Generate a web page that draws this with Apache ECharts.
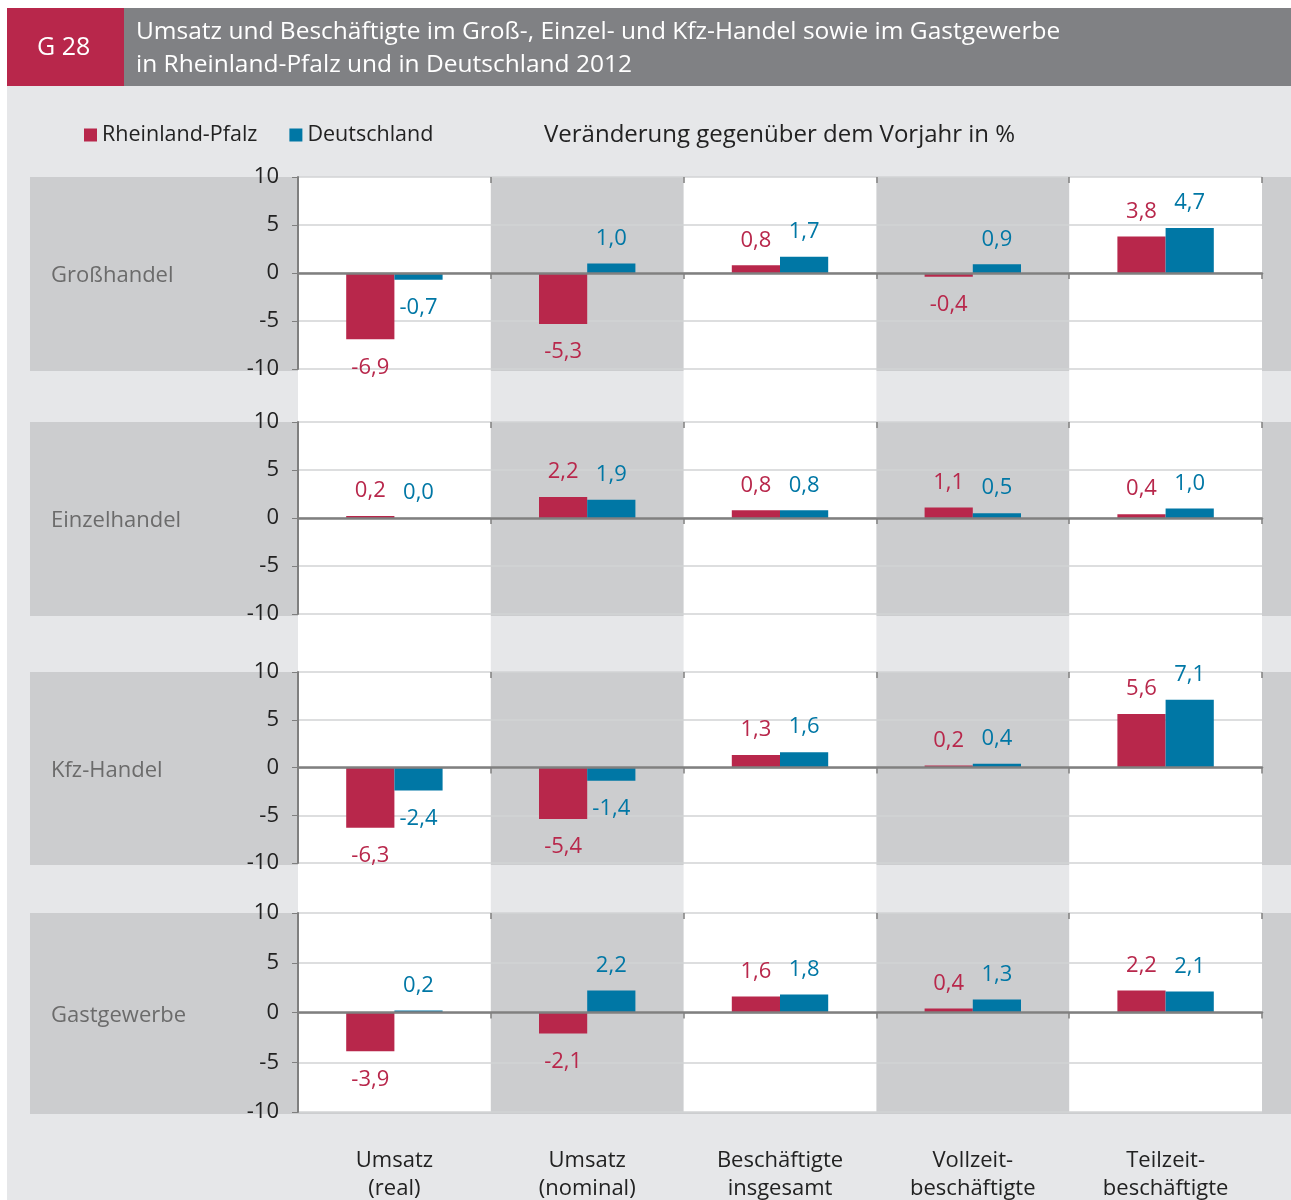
<!DOCTYPE html>
<html>
<head>
<meta charset="utf-8">
<script src="https://cdn.jsdelivr.net/npm/echarts@6/dist/echarts.min.js"></script>
<style>
  body { margin: 0; background: #fff; }
  #chart { width: 1291px; height: 1200px; }
</style>
</head>
<body>
<div id="chart"></div>
<script>
// Kategorien (x-Achse) und Branchen (Zeilen)
const categories = ['Umsatz\n(real)', 'Umsatz\n(nominal)', 'Beschäftigte\ninsgesamt', 'Vollzeit-\nbeschäftigte', 'Teilzeit-\nbeschäftigte'];
const branches = ['Großhandel', 'Einzelhandel', 'Kfz-Handel', 'Gastgewerbe'];

// Veränderung gegenüber dem Vorjahr in %
const rlpGrosshandel = [-6.9, -5.3, 0.8, -0.4, 3.8];
const deGrosshandel = [-0.7, 1.0, 1.7, 0.9, 4.7];
const rlpEinzelhandel = [0.2, 2.2, 0.8, 1.1, 0.4];
const deEinzelhandel = [0.0, 1.9, 0.8, 0.5, 1.0];
const rlpKfzHandel = [-6.3, -5.4, 1.3, 0.2, 5.6];
const deKfzHandel = [-2.4, -1.4, 1.6, 0.4, 7.1];
const rlpGastgewerbe = [-3.9, -2.1, 1.6, 0.4, 2.2];
const deGastgewerbe = [0.2, 2.2, 1.8, 1.3, 2.1];

const yMin = -10, yMax = 10, yStep = 5;

const rlpRows = [rlpGrosshandel, rlpEinzelhandel, rlpKfzHandel, rlpGastgewerbe];
const deRows = [deGrosshandel, deEinzelhandel, deKfzHandel, deGastgewerbe];

// Layout
const FONT = '"Open Sans", sans-serif';
const RED = '#b8274b';
const BLUE = '#0077a5';
const plotLeft = 298, plotRight = 1262;
const gridTops = [177, 422, 672, 913];
const gridHeights = [192, 192, 191, 199];
const colW = (plotRight - plotLeft) / categories.length;
const plotBottom = gridTops[3] + gridHeights[3];

const fmt = v => v.toFixed(1).replace('.', ',');

const chart = echarts.init(document.getElementById('chart'));

const grids = [], xAxes = [], yAxes = [], series = [];
const graphics = [
  { type: 'rect', shape: { x: 7, y: 86, width: 1284, height: 1114 }, style: { fill: '#e6e7e9' }, z: -30 },
  { type: 'rect', shape: { x: 7, y: 8, width: 117, height: 78 }, style: { fill: '#b8274b' }, z: -30 },
  { type: 'rect', shape: { x: 124, y: 8, width: 1167, height: 78 }, style: { fill: '#808184' }, z: -30 },
  { type: 'text', x: 37, y: 48, style: { text: 'G 28', fill: '#fff', font: '500 25px ' + FONT, verticalAlign: 'middle' }, z: 50 },
  { type: 'text', x: 136, y: 32, style: { text: 'Umsatz und Beschäftigte im Groß-, Einzel- und Kfz-Handel sowie im Gastgewerbe', fill: '#fff', font: '500 24.5px ' + FONT, verticalAlign: 'middle' }, z: 50 },
  { type: 'text', x: 136, y: 65, style: { text: 'in Rheinland-Pfalz und in Deutschland 2012', fill: '#fff', font: '500 24.5px ' + FONT, verticalAlign: 'middle' }, z: 50 }
];

branches.forEach((name, i) => {
  const top = gridTops[i], h = gridHeights[i];
  grids.push({ left: plotLeft, width: plotRight - plotLeft, top: top, height: h, outerBoundsMode: 'none', containLabel: false });
  // graue Zeile
  graphics.push({ type: 'rect', shape: { x: 30, y: top, width: 1261, height: h + 2 }, style: { fill: '#cccdcf' }, z: -25 });
  graphics.push({ type: 'text', x: 51, y: top + h / 2 + 3, style: { text: name, fill: '#6b6b6b', font: '22px ' + FONT, verticalAlign: 'middle' }, z: 50 });

  xAxes.push({
    type: 'category', gridIndex: i, data: categories, z: 3,
    axisLine: { onZero: true, lineStyle: { color: '#808080', width: 2.5 } },
    axisTick: { show: true, interval: 0, length: 6, lineStyle: { color: '#808080', width: 1.5 } },
    axisLabel: { show: false },
    splitLine: { show: false }
  });
  yAxes.push({
    type: 'value', gridIndex: i, min: yMin, max: yMax, interval: yStep,
    axisLine: { show: true, lineStyle: { color: '#7f7f7f', width: 2 } },
    axisTick: { show: true, length: 6, lineStyle: { color: '#7f7f7f' } },
    axisLabel: { color: '#222', fontSize: 22, fontFamily: FONT, margin: 19 },
    splitLine: { show: true, lineStyle: { color: '#d2d3d5', width: 1.5 } }
  });

  const mk = vals => vals.map(v => ({
    value: v,
    label: v < 0 ? { position: 'bottom', distance: 17 } : { position: 'top', distance: 14 }
  }));
  const labelBase = color => ({
    show: true, color: color, fontSize: 22, fontFamily: FONT,
    formatter: p => fmt(p.value)
  });
  series.push({
    name: 'Rheinland-Pfalz', type: 'bar', xAxisIndex: i, yAxisIndex: i,
    data: mk(rlpRows[i]), barGap: 0, barCategoryGap: '50%',
    itemStyle: { color: RED }, label: labelBase(RED)
  });
  series.push({
    name: 'Deutschland', type: 'bar', xAxisIndex: i, yAxisIndex: i,
    data: mk(deRows[i]), barGap: 0, barCategoryGap: '50%',
    itemStyle: { color: BLUE }, label: labelBase(BLUE)
  });
});

// Striche nach oben an der Nulllinie
branches.forEach((name, i) => {
  xAxes.push({
    type: 'category', gridIndex: i, data: categories, z: 3,
    axisLine: { show: false, onZero: true },
    axisTick: { show: true, inside: true, interval: 0, length: 6, lineStyle: { color: '#808080', width: 1.5 } },
    axisLabel: { show: false }
  });
});

// Kategorienbeschriftung unter der letzten Zeile
xAxes.push({
  type: 'category', gridIndex: 3, data: categories, position: 'bottom',
  axisLine: { show: false, onZero: false }, axisTick: { show: false },
  axisLabel: { interval: 0, color: '#222', fontSize: 22, fontFamily: FONT, lineHeight: 28, margin: 35 }
});

// weiße Spalten über die ganze Höhe
for (let c = 0; c < categories.length; c += 2) {
  graphics.push({ type: 'rect', shape: { x: plotLeft + c * colW, y: gridTops[0], width: colW, height: plotBottom - gridTops[0] }, style: { fill: '#ffffff' }, z: -20 });
}

const option = {
  backgroundColor: '#ffffff',
  animation: false,
  textStyle: { fontFamily: FONT },
  title: {
    text: 'Veränderung gegenüber dem Vorjahr in %',
    left: 544, top: 123, padding: 0,
    textStyle: { color: '#222', fontSize: 24, fontWeight: 'normal', fontFamily: FONT }
  },
  legend: {
    data: ['Rheinland-Pfalz', 'Deutschland'],
    left: 84, top: 124, padding: 0, icon: 'rect', itemWidth: 13, itemHeight: 13, itemGap: 32,
    textStyle: { color: '#222', fontSize: 21.5, fontFamily: FONT }
  },
  graphic: graphics,
  grid: grids,
  xAxis: xAxes,
  yAxis: yAxes,
  series: series
};

chart.setOption(option);
</script>
</body>
</html>
